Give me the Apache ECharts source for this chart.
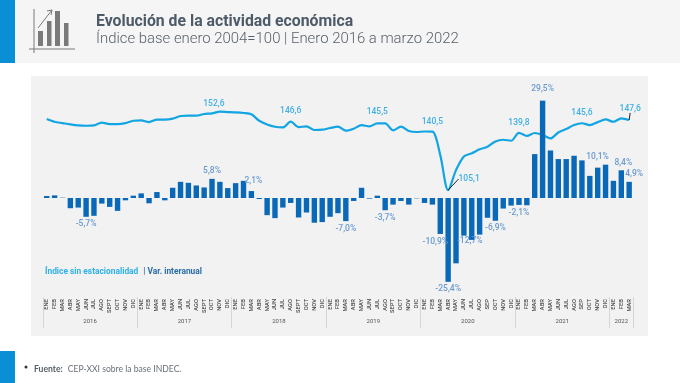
<!DOCTYPE html>
<html><head><meta charset="utf-8">
<style>html,body{margin:0;padding:0;background:#fff}#c{width:680px;height:383px}</style>
<script src="https://cdn.jsdelivr.net/npm/echarts@6/dist/echarts.min.js"></script></head>
<body><div id="c"></div>
<script>
const months = ['ENE','FEB','MAR','ABR','MAY','JUN','JUL','AGO','SEPT','OCT','NOV','DIC',
 'ENE','FEB','MAR','ABR','MAY','JUN','JUL','AGO','SEPT','OCT','NOV','DIC',
 'ENE','FEB','MAR','ABR','MAY','JUN','JUL','AGO','SEPT','OCT','NOV','DIC',
 'ENE','FEB','MAR','ABR','MAY','JUN','JUL','AGO','SEPT','OCT','NOV','DIC',
 'ENE','FEB','MAR','ABR','MAY','JUN','JUL','AGO','SEP','OCT','NOV','DIC',
 'ENE','FEB','MAR','ABR','MAY','JUN','JUL','AGO','SEP','OCT','NOV','DIC',
 'ENE','FEB','MAR'];
const years = ['2016','2017','2018','2019','2020','2021','2022'];
const yearStarts = [0,12,24,36,48,60,72,75];
const indice = [148.2,146.5,145.7,144.9,144.3,144.1,144.3,146,145.1,145.1,145.7,147.1,
 147.3,146.3,147.8,147.8,148.4,150,150.2,150.2,151.2,151.6,152.6,152.4,
 152.2,151.8,151,147.1,144.9,143.5,143.1,146.6,143.3,143.7,141.5,141.7,
 142.7,143.5,141.1,142.3,144.5,143.7,145.5,145.5,141.3,143.5,140.9,140.3,
 140.6,140.5,126.3,105.1,117.2,125.5,127.4,129.8,131.4,134.6,135.6,135,
 139.8,137.9,139.7,138.5,136.4,140,142.1,144.5,145.6,144.5,146.3,147.9,
 146.5,148.6,147.6];
const interanual = [0.6,0.8,0.1,-3.1,-2.9,-5.7,-5.4,-1.7,-2.7,-3.9,-0.7,0.7,
 1.4,-1.6,1.8,-0.7,3.1,4.9,4.6,3.8,3.2,5.8,4.9,3.0,
 4.5,5.2,2.1,-0.3,-5.2,-6.1,-2.9,-1.5,-5.9,-4.4,-7.5,-7.3,
 -5.7,-4.6,-7.0,-0.9,3.1,-0.2,0.7,-3.7,-2.0,-0.9,-2.0,-0.1,
 -1.5,-2.0,-10.9,-25.4,-19.8,-11.4,-12.7,-11.1,-6.0,-6.9,-3.2,-2.3,
 -2.1,-2.2,13.3,29.5,14.4,11.8,11.8,12.8,11.4,6.7,9.2,10.1,
 5.2,8.4,4.9];
const indiceLabels = {22:[-6,0],31:[0,-3],42:[0,-4],49:[0,-2],51:[21,-3.5],60:[0,-2],68:[0,-3],74:[1,-4]};
const leaders = [51,74];
const interLabels = {5:[0,0],21:[0,0],26:[2,-3],38:[0,0],43:[0,0],50:[-5,0],51:[0,0],54:[-2,-7],57:[0,0],60:[0,0],63:[0,-4],71:[-8,0],73:[2,0],74:[5,0]};
const fmt = (v,d) => v.toFixed(d).replace('.',',');
const bg = '#f2f2f2', cLine = '#12a5e3', cBar = '#0a68b8', cBarLbl = '#6a9bd0', cLineLbl = '#3fb0e6';
const chart = echarts.init(document.getElementById('c'),null,{renderer:'canvas'});
const FF = 'Roboto';
chart.setOption({
 animation:false,
 backgroundColor:'#fff',
 title:[
  {text:'Evolución de la actividad económica',left:91,top:9,textStyle:{fontFamily:FF,fontSize:15.8,fontWeight:700,color:'#4d5a68'}},
  {text:'Índice base enero 2004=100 | Enero 2016 a marzo 2022',left:91,top:27,textStyle:{fontFamily:FF,fontSize:14.9,fontWeight:300,color:'#58616b'}},
  {text:'{a|Índice sin estacionalidad} {b|| Var. interanual}',left:40,top:258,textStyle:{rich:{
     a:{fontFamily:FF,fontSize:8.4,fontWeight:700,color:'#2db1e6'},
     b:{fontFamily:FF,fontSize:8.4,fontWeight:700,color:'#2a6ea8'}}}},
  {text:'{a|Fuente:} {b|CEP-XXI sobre la base INDEC.}',left:29,top:355,textStyle:{rich:{
     a:{fontFamily:'Lato',fontSize:8.6,fontWeight:700,color:'#55606a'},
     b:{fontFamily:'Lato',fontSize:8.6,fontWeight:400,color:'#6a7078'}}}}
 ],
 graphic:[
  {type:'rect',z:-10,shape:{x:0,y:0,width:680,height:63},style:{fill:'#f5f5f5'}},
  {type:'rect',z:-9,shape:{x:0,y:0,width:15,height:63},style:{fill:'#0a8fd4'}},
  {type:'rect',z:-9,shape:{x:0,y:351,width:15,height:32},style:{fill:'#0a8fd4'}},
  {type:'rect',z:-10,shape:{x:31,y:76,width:617,height:260},style:{fill:bg}},
  {type:'circle',shape:{cx:26,cy:367,r:1.5},style:{fill:'#333'}},
  {type:'rect',shape:{x:38,y:31,width:5,height:15},style:{fill:'#7a7a7a'}},
  {type:'rect',shape:{x:47,y:21,width:4.5,height:25},style:{fill:'#7a7a7a'}},
  {type:'rect',shape:{x:55,y:11,width:5,height:35},style:{fill:'#7a7a7a'}},
  {type:'rect',shape:{x:64,y:23,width:4.5,height:23},style:{fill:'#7a7a7a'}},
  {type:'line',shape:{x1:34,y1:9,x2:34,y2:53},style:{stroke:'#7a7a7a',lineWidth:1}},
  {type:'line',shape:{x1:29,y1:49,x2:75,y2:49},style:{stroke:'#7a7a7a',lineWidth:1}},
  {type:'polyline',shape:{points:[[38,28],[52,10]]},style:{stroke:'#7a7a7a',lineWidth:1,fill:'none'}},
  {type:'polyline',shape:{points:[[47,11],[52,10],[51,15]]},style:{stroke:'#7a7a7a',lineWidth:1,fill:'none'}}
 ],
 grid:{left:42.8,width:590.3,top:92.4,height:204.6},
 xAxis:[
  {type:'category',data:months,position:'bottom',axisLine:{show:false},axisTick:{show:false},
   axisLabel:{interval:0,rotate:90,fontFamily:FF,fontSize:5.8,fontWeight:500,color:'#444',margin:2,verticalAlign:'middle',align:'right'}},
  {type:'value',min:0,max:75,position:'bottom',axisLine:{show:false},splitLine:{show:false},
   axisTick:{show:true,length:31,lineStyle:{color:'#d6d6d6',width:1},customValues:yearStarts},
   axisLabel:{show:true,margin:21,fontFamily:FF,fontSize:6,color:'#555',hideOverlap:false,showMinLabel:true,showMaxLabel:true,
     customValues:years.map((y,k)=>(yearStarts[k]+yearStarts[k+1])/2),
     formatter:v=>years[yearStarts.findIndex((s,k)=>(s+yearStarts[k+1])/2===v)]}}
 ],
 yAxis:[
  {type:'value',min:-30,max:32,show:false},
  {type:'value',min:40.3,max:164.3,show:false}
 ],
 series:[
  {type:'line',name:'Índice sin estacionalidad',xAxisIndex:0,yAxisIndex:1,smooth:0.3,z:2,
   symbol:'circle',symbolSize:0.01,showSymbol:true,showAllSymbol:true,
   lineStyle:{color:cLine,width:2.2},itemStyle:{color:cLine},
   data:indice.map((v,i)=>{
     const d={value:v};
     if(indiceLabels[i]) d.label={show:true,position:'top',distance:3,
       formatter:fmt(v,1),fontFamily:FF,fontSize:8.5,fontWeight:500,color:cLineLbl};
     if(leaders.includes(i)) d.labelLine={show:true,lineStyle:{color:'#222',width:1}};
     return d;}),
   labelLayout:p=>{const o=indiceLabels[p.dataIndex]; return o?{dx:o[0],dy:o[1]}:{};}},
  {type:'bar',name:'Var. interanual',xAxisIndex:0,yAxisIndex:0,barWidth:5.4,itemStyle:{color:cBar},z:3,
   data:interanual.map((v,i)=>{
     const d={value:v};
     if(interLabels[i]) d.label={show:true,position:v<0?'bottom':'top',offset:interLabels[i],distance:3,
       formatter:fmt(v,1)+'%',fontFamily:FF,fontSize:8.5,fontWeight:500,color:cBarLbl};
     return d;})}
 ]
});
</script></body></html>
